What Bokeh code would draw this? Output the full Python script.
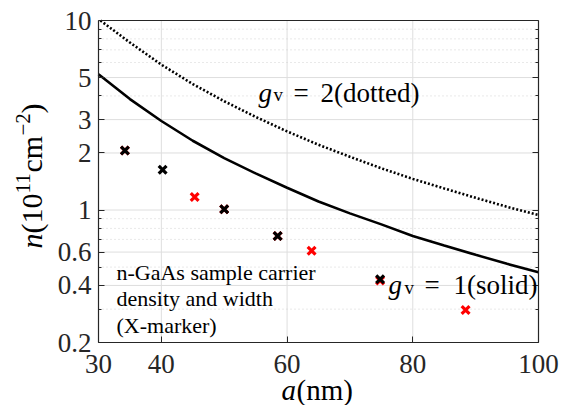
import math
from bokeh.plotting import figure
from bokeh.models import (FixedTicker, LogAxis, LinearAxis, Label, Range1d,
                          CustomJSTickFormatter)
from bokeh.embed import file_html
from bokeh.resources import INLINE

# ---------------- data ----------------
a_curve = [30, 35, 40, 45, 50, 55, 60, 65, 70, 75, 80, 85, 90, 95, 100]
n_solid = [5.2, 3.85, 2.95, 2.32, 1.88, 1.56, 1.31, 1.11, 0.96, 0.84, 0.73, 0.65, 0.58, 0.52, 0.47]
a_dot = [30.3, 35, 40, 45, 50, 55, 60, 65, 70, 75, 80, 85, 90, 95, 100]
n_dotted = [10.0, 7.65, 5.85, 4.62, 3.75, 3.1, 2.6, 2.21, 1.91, 1.66, 1.46, 1.3, 1.16, 1.04, 0.94]

a_red = [34.2, 45.3, 50.0, 58.5, 63.9, 74.8, 88.4]
n_red = [2.06, 1.17, 1.01, 0.73, 0.61, 0.425, 0.297]
a_black = [34.2, 40.2, 50.0, 58.5, 74.8]
n_black = [2.06, 1.63, 1.01, 0.73, 0.431]

x_ticks = [30, 40, 60, 80, 100]
y_ticks = [0.2, 0.4, 0.6, 1, 2, 3, 5, 10]
y_minor = [0.3, 0.5, 0.7, 0.8, 0.9, 4, 6, 7, 8, 9]

# ---------------- layout ----------------
W, H = 559, 405
X0, X1 = 30, 100
Y0, Y1 = 0.2, 10
BOX_L, BOX_R, BOX_T, BOX_B = 98, 538, 20, 342   # axes box in canvas px
DEC_PER_PX = (math.log10(Y1) - math.log10(Y0)) / (BOX_B - BOX_T)


def X(px):
    return X0 + (px - BOX_L) * (X1 - X0) / (BOX_R - BOX_L)


def Y(py):
    return 10 ** (math.log10(Y1) - (py - BOX_T) * DEC_PER_PX)


SERIF = "Liberation Serif"
TXT = "#262626"
GRID = "#dedede"

p = figure(width=W, height=H, x_range=Range1d(X(0), X(W)), y_range=Range1d(Y(H), Y(0)),
           y_axis_type="log", output_backend="svg", toolbar_location=None,
           min_border=0, min_border_left=0, min_border_right=0,
           min_border_top=0, min_border_bottom=0)
p.background_fill_color = "white"
p.border_fill_color = "white"
p.outline_line_color = None
p.grid.visible = False

xax = p.xaxis[0]
yax = p.yaxis[0]
xax.ticker = FixedTicker(ticks=x_ticks)
yax.ticker = FixedTicker(ticks=y_ticks, minor_ticks=y_minor)
yax.formatter = CustomJSTickFormatter(code="return String(tick);")
xax.fixed_location = Y0
xax.bounds = (X0, X1)
yax.fixed_location = X0
yax.bounds = (Y0, Y1)

for ax in (xax, yax):
    ax.axis_line_color = TXT
    ax.axis_line_width = 1.2
    ax.major_tick_in = 6
    ax.major_tick_out = 0
    ax.minor_tick_in = 3
    ax.minor_tick_out = 0
    ax.major_tick_line_color = TXT
    ax.minor_tick_line_color = TXT
    ax.major_label_text_font = SERIF
    ax.major_label_text_font_size = "27px"
    ax.major_label_text_color = TXT
xax.minor_tick_line_color = None
yax.major_label_standoff = 7
xax.major_label_standoff = 12

blank = CustomJSTickFormatter(code="return '';")
rax = LogAxis(ticker=FixedTicker(ticks=y_ticks, minor_ticks=y_minor), formatter=blank,
              fixed_location=X1, bounds=(Y0, Y1), major_label_standoff=0,
              axis_line_color=TXT, axis_line_width=1.2,
              major_tick_in=6, major_tick_out=0, minor_tick_in=3, minor_tick_out=0,
              major_tick_line_color=TXT, minor_tick_line_color=TXT)
p.add_layout(rax, "right")
tax = LinearAxis(ticker=FixedTicker(ticks=x_ticks), formatter=blank,
                 fixed_location=Y1, bounds=(X0, X1), major_label_standoff=0,
                 axis_line_color=TXT, axis_line_width=1.2,
                 major_tick_line_color=None, minor_tick_line_color=None)
p.add_layout(tax, "above")

# grid lines (drawn inside the axes box only)
xg = x_ticks[1:-1]
p.segment(x0=xg, y0=[Y0] * len(xg), x1=xg, y1=[Y1] * len(xg), line_color=GRID, line_width=1)
yg = y_ticks[1:-1]
p.segment(x0=[X0] * len(yg), y0=yg, x1=[X1] * len(yg), y1=yg, line_color=GRID, line_width=1)
p.segment(x0=[X0] * len(y_minor), y0=y_minor, x1=[X1] * len(y_minor), y1=y_minor,
          line_color="#d2d2d2", line_width=1, line_dash="1 3")

# curves
p.line(a_curve, n_solid, line_color="black", line_width=2.6)
p.line(a_dot, n_dotted, line_color="black", line_width=2.6, line_dash="2 2")

# markers
p.scatter(a_red, n_red, marker="x", size=11, line_color="#ff0000", line_width=3.2)
p.scatter(a_black, n_black, marker="x", size=11, line_color="black", line_width=3.2)


def lab(text, px, py, size, style="normal", align="left", angle=0.0):
    # (px, py): left end / vertical middle of the text, canvas pixels
    p.add_layout(Label(x=X(px), y=Y(py), text=text, text_font=SERIF,
                       text_font_size=f"{size}px", text_font_style=style,
                       text_color="black", text_align=align,
                       text_baseline="middle", angle=angle))


# g_v annotations
lab("g", 258, 92, 27, "italic")
lab("v", 273, 94, 19)
lab("=", 293, 92, 27)
lab("2(dotted)", 320, 92, 27)

lab("g", 388, 284, 27, "italic")
lab("v", 404, 287, 19)
lab("=", 424, 284, 27)
lab("1(solid)", 453, 284, 27)

# text block
lab("n-GaAs sample carrier", 116, 272, 22)
lab("density and width", 116, 298, 22)
lab("(X-marker)", 116, 325, 22)

# axis titles
lab("a", 281, 389, 29, "italic")
lab("(nm)", 296, 389, 29)

R = math.pi / 2
lab("n", 31, 248, 30, "italic", angle=R)
lab("(10", 31, 233, 30, angle=R)
lab("11", 22, 193, 21, angle=R)
lab("cm", 31, 172, 30, angle=R)
lab("\u22122", 22, 135, 21, angle=R)
lab(")", 31, 113, 30, angle=R)

open("out.html", "w").write(file_html(p, INLINE))
